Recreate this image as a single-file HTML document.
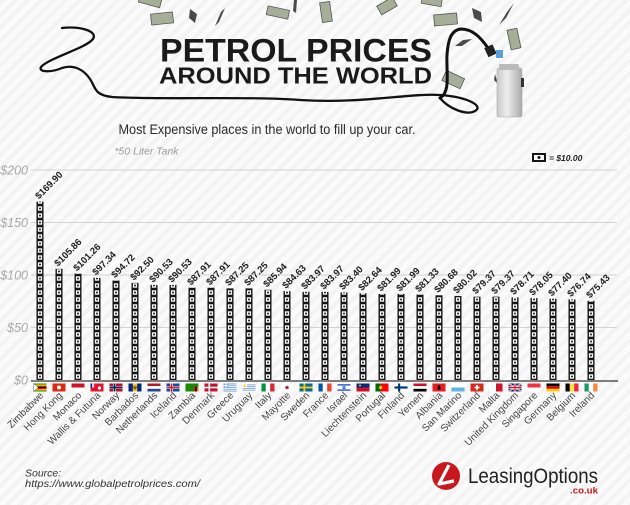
<!DOCTYPE html>
<html><head><meta charset="utf-8"><style>
html,body{margin:0;padding:0;}
body{width:630px;height:505px;overflow:hidden;background:#f7f7f7;background-image:repeating-linear-gradient(135deg,#f3f3f3 0px,#f3f3f3 4px,#fbfbfb 4px,#fbfbfb 9px);}
svg{position:absolute;left:0;top:0;}
text{font-family:"Liberation Sans",sans-serif;}
</style></head><body>
<svg width="630" height="505" viewBox="0 0 630 505" xmlns="http://www.w3.org/2000/svg">
<defs>
<pattern id="ico" patternUnits="userSpaceOnUse" x="36.5" y="380" width="19" height="7">
<rect x="0" y="0" width="7" height="7" fill="#151515"/>
<rect x="1.4" y="1.3" width="4.2" height="4.4" fill="#fff"/>
<circle cx="3.5" cy="3.5" r="1" fill="#151515"/>
</pattern>
<linearGradient id="can" x1="0" y1="0" x2="1" y2="0">
<stop offset="0" stop-color="#c9c9c9"/><stop offset="0.4" stop-color="#eeeeee"/><stop offset="1" stop-color="#a9a9a9"/>
</linearGradient>
</defs>

<!-- header decorations: bills -->
<g fill="#a7ae98" stroke="#555" stroke-width="0.8">
<rect x="151" y="13" width="22" height="11" transform="rotate(-6 162 18)"/>
<rect x="267" y="8" width="22" height="9" transform="rotate(12 278 12)"/>
<rect x="321" y="2" width="10" height="20" transform="rotate(-8 326 12)"/>
<rect x="378" y="1" width="18" height="10" transform="rotate(-30 387 6)"/>
<rect x="434" y="14" width="23" height="11" transform="rotate(-5 445 19)"/>
<rect x="509" y="29" width="10" height="20" transform="rotate(-12 514 39)"/>
<rect x="443" y="74" width="20" height="11" transform="rotate(25 453 80)"/>
<rect x="139" y="-3" width="22" height="8" transform="rotate(15 150 1)"/>
<rect x="422" y="-4" width="20" height="9" transform="rotate(10 432 0)"/>
</g>
<g fill="#4a4a4a">
<path d="M190 9 L197 14 L195 23 L189 18 Z"/>
<path d="M215 26 L221 12 L225 8 L219 22 Z"/>
<path d="M294 0 L297 0 L296 13 L293 11 Z"/>
<path d="M472 8 L481 12 L482 22 L474 18 Z"/>
<path d="M499 25 L507 12 L514 3 L506 18 Z"/>
<path d="M455 46 L463 40 L472 39 L462 46 Z"/>
<path d="M495 74 L498 84 L494 80 Z"/>
</g>

<!-- hose / squiggle line -->
<path d="M62 28 C80 26 98 31 93 39 C86 48 52 57 42 66 C36 72 50 73 62 68 C74 64 84 70 90 79 C96 88 94 95 112 97 C160 100 250 96 300 100 C360 104 410 93 440 95 C468 97 484 106 475 111 C466 116 448 108 440 98" fill="none" stroke="#111" stroke-width="2.3" stroke-linecap="round"/>
<path d="M440 98 C451 92 446 70 447 55 C448 40 451 30 461 29 C473 29 481 38 488 48" fill="none" stroke="#111" stroke-width="3" stroke-linecap="round"/>
<rect x="486" y="46" width="9" height="10" fill="#222" transform="rotate(-25 490 51)"/>
<rect x="496" y="50" width="7" height="8" fill="#5aa0d8"/>
<!-- jerry can -->
<rect x="497" y="68" width="25" height="49" rx="2" fill="url(#can)" stroke="#aaa" stroke-width="0.6"/>
<rect x="499" y="64" width="20" height="6" rx="1" fill="#bbb"/>
<rect x="521" y="78" width="3" height="9" fill="#333"/>

<!-- title -->
<text x="160" y="61.5" font-size="32" font-weight="bold" fill="#1a1a1a" textLength="272" lengthAdjust="spacingAndGlyphs">PETROL PRICES</text>
<text x="159" y="83.3" font-size="23" font-weight="bold" fill="#1a1a1a" textLength="273" lengthAdjust="spacingAndGlyphs">AROUND THE WORLD</text>
<text x="118.5" y="134" font-size="13.5" fill="#2a2a2a" textLength="297" lengthAdjust="spacingAndGlyphs">Most Expensive places in the world to fill up your car.</text>
<text x="114.5" y="154.5" font-size="10" font-style="italic" fill="#9a9a9a" textLength="64" lengthAdjust="spacingAndGlyphs">*50 Liter Tank</text>

<!-- legend -->
<rect x="532" y="153" width="14" height="9" fill="#151515"/>
<rect x="534" y="155" width="10" height="5" fill="#fff"/>
<circle cx="539" cy="157.5" r="1.5" fill="#151515"/>
<text x="549" y="161" font-size="8.5" font-weight="bold" font-style="italic" fill="#222">= $10.00</text>

<!-- gridlines -->
<g stroke="#d2d2d2" stroke-width="1">
<line x1="31" y1="170" x2="617" y2="170"/>
<line x1="31" y1="222.5" x2="617" y2="222.5"/>
<line x1="31" y1="275" x2="617" y2="275"/>
<line x1="31" y1="327.5" x2="617" y2="327.5"/>
</g>
<g font-size="12.5" font-style="italic" fill="#a8a8a8" text-anchor="end">
<text x="28" y="174.5">$200</text>
<text x="28" y="227">$150</text>
<text x="28" y="279.5">$100</text>
<text x="28" y="332">$50</text>
<text x="28" y="384.5">$0</text>
</g>

<!-- bars -->
<g fill="url(#ico)">
<rect x="36.5" y="201.6" width="7" height="178.4"/>
<rect x="55.5" y="268.85" width="7" height="111.15"/>
<rect x="74.5" y="273.68" width="7" height="106.32"/>
<rect x="93.5" y="277.79" width="7" height="102.21"/>
<rect x="112.5" y="280.54" width="7" height="99.46"/>
<rect x="131.5" y="282.87" width="7" height="97.13"/>
<rect x="150.5" y="284.94" width="7" height="95.06"/>
<rect x="169.5" y="284.94" width="7" height="95.06"/>
<rect x="188.5" y="287.69" width="7" height="92.31"/>
<rect x="207.5" y="287.69" width="7" height="92.31"/>
<rect x="226.5" y="288.39" width="7" height="91.61"/>
<rect x="245.5" y="288.39" width="7" height="91.61"/>
<rect x="264.5" y="289.76" width="7" height="90.24"/>
<rect x="283.5" y="291.14" width="7" height="88.86"/>
<rect x="302.5" y="291.83" width="7" height="88.17"/>
<rect x="321.5" y="291.83" width="7" height="88.17"/>
<rect x="340.5" y="292.43" width="7" height="87.57"/>
<rect x="359.5" y="293.23" width="7" height="86.77"/>
<rect x="378.5" y="293.91" width="7" height="86.09"/>
<rect x="397.5" y="293.91" width="7" height="86.09"/>
<rect x="416.5" y="294.6" width="7" height="85.4"/>
<rect x="435.5" y="295.29" width="7" height="84.71"/>
<rect x="454.5" y="295.98" width="7" height="84.02"/>
<rect x="473.5" y="296.66" width="7" height="83.34"/>
<rect x="492.5" y="296.66" width="7" height="83.34"/>
<rect x="511.5" y="297.35" width="7" height="82.65"/>
<rect x="530.5" y="298.05" width="7" height="81.95"/>
<rect x="549.5" y="298.73" width="7" height="81.27"/>
<rect x="568.5" y="299.42" width="7" height="80.58"/>
<rect x="587.5" y="300.8" width="7" height="79.2"/>
</g>

<!-- value labels -->
<g font-size="9.5" font-weight="bold" fill="#1e1e1e">
<text transform="translate(39,199.6) rotate(-45)">$169.90</text>
<text transform="translate(58,266.85) rotate(-45)">$105.86</text>
<text transform="translate(77,271.68) rotate(-45)">$101.26</text>
<text transform="translate(96,275.79) rotate(-45)">$97.34</text>
<text transform="translate(115,278.54) rotate(-45)">$94.72</text>
<text transform="translate(134,280.87) rotate(-45)">$92.50</text>
<text transform="translate(153,282.94) rotate(-45)">$90.53</text>
<text transform="translate(172,282.94) rotate(-45)">$90.53</text>
<text transform="translate(191,285.69) rotate(-45)">$87.91</text>
<text transform="translate(210,285.69) rotate(-45)">$87.91</text>
<text transform="translate(229,286.39) rotate(-45)">$87.25</text>
<text transform="translate(248,286.39) rotate(-45)">$87.25</text>
<text transform="translate(267,287.76) rotate(-45)">$85.94</text>
<text transform="translate(286,289.14) rotate(-45)">$84.63</text>
<text transform="translate(305,289.83) rotate(-45)">$83.97</text>
<text transform="translate(324,289.83) rotate(-45)">$83.97</text>
<text transform="translate(343,290.43) rotate(-45)">$83.40</text>
<text transform="translate(362,291.23) rotate(-45)">$82.64</text>
<text transform="translate(381,291.91) rotate(-45)">$81.99</text>
<text transform="translate(400,291.91) rotate(-45)">$81.99</text>
<text transform="translate(419,292.6) rotate(-45)">$81.33</text>
<text transform="translate(438,293.29) rotate(-45)">$80.68</text>
<text transform="translate(457,293.98) rotate(-45)">$80.02</text>
<text transform="translate(476,294.66) rotate(-45)">$79.37</text>
<text transform="translate(495,294.66) rotate(-45)">$79.37</text>
<text transform="translate(514,295.35) rotate(-45)">$78.71</text>
<text transform="translate(533,296.05) rotate(-45)">$78.05</text>
<text transform="translate(552,296.73) rotate(-45)">$77.40</text>
<text transform="translate(571,297.42) rotate(-45)">$76.74</text>
<text transform="translate(590,298.8) rotate(-45)">$75.43</text>
</g>

<!-- axis -->
<line x1="31" y1="381" x2="618" y2="381" stroke="#555" stroke-width="1.4"/>

<!-- flags -->
<g transform="translate(33.5,383.5)"><rect width="13" height="8" fill="#319208"/><rect y="1.1" width="13" height="5.8" fill="#ffd200"/><rect y="2.3" width="13" height="3.4" fill="#de2010"/><rect y="3.4" width="13" height="1.2" fill="#000"/><path d="M0 0 L5 4 L0 8Z" fill="#fff" stroke="#000" stroke-width="0.3"/></g>
<g transform="translate(52.5,383.5)"><rect width="13" height="8" fill="#de2910"/><circle cx="6.5" cy="4" r="2" fill="#fff"/></g>
<g transform="translate(71.5,383.5)"><rect width="13" height="4" fill="#ce1126"/><rect y="4" width="13" height="4" fill="#fff"/></g>
<g transform="translate(90.5,383.5)"><rect width="13" height="8" fill="#e8112d"/><rect width="5" height="4" fill="#fff"/><rect width="1.7" height="4" fill="#002395"/><rect x="3.3" width="1.7" height="4" fill="#ed2939"/><circle cx="9" cy="4.5" r="1.6" fill="#fff"/></g>
<g transform="translate(109.5,383.5)"><rect width="13" height="8" fill="#ba0c2f"/><rect x="3.5" width="3" height="8" fill="#fff"/><rect y="2.75" width="13" height="2.5" fill="#fff"/><rect x="4.1" width="1.8" height="8" fill="#00205b"/><rect y="3.2" width="13" height="1.6" fill="#00205b"/></g>
<g transform="translate(128.5,383.5)"><rect width="13" height="8" fill="#00267f"/><rect x="4.33" width="4.33" height="8" fill="#ffc726"/><path d="M6.5 2 L6.5 6.5 M5.3 3 L5.3 4.5 L7.7 4.5 L7.7 3" stroke="#000" stroke-width="0.6" fill="none"/></g>
<g transform="translate(147.5,383.5)"><rect width="13" height="2.67" fill="#ae1c28"/><rect y="2.67" width="13" height="2.67" fill="#fff"/><rect y="5.33" width="13" height="2.67" fill="#21468b"/></g>
<g transform="translate(166.5,383.5)"><rect width="13" height="8" fill="#02529c"/><rect x="3.5" width="3" height="8" fill="#fff"/><rect y="2.75" width="13" height="2.5" fill="#fff"/><rect x="4.1" width="1.8" height="8" fill="#dc1e35"/><rect y="3.2" width="13" height="1.6" fill="#dc1e35"/></g>
<g transform="translate(185.5,383.5)"><rect width="13" height="8" fill="#198a00"/><rect x="8.2" y="3" width="1.6" height="5" fill="#de2010"/><rect x="9.8" y="3" width="1.6" height="5" fill="#000"/><rect x="11.4" y="3" width="1.6" height="5" fill="#ef7d00"/></g>
<g transform="translate(204.5,383.5)"><rect width="13" height="8" fill="#c8102e"/><rect x="4" width="1.6" height="8" fill="#fff"/><rect y="3.2" width="13" height="1.6" fill="#fff"/></g>
<g transform="translate(223.5,383.5)"><rect width="13" height="8" fill="#6fa1d8"/><rect y="0.9" width="13" height="0.9" fill="#fff"/><rect y="2.7" width="13" height="0.9" fill="#fff"/><rect y="4.4" width="13" height="0.9" fill="#fff"/><rect y="6.2" width="13" height="0.9" fill="#fff"/><rect width="5" height="4.4" fill="#6fa1d8"/><rect x="2" width="1" height="4.4" fill="#fff"/><rect y="1.7" width="5" height="1" fill="#fff"/></g>
<g transform="translate(242.5,383.5)"><rect width="13" height="8" fill="#fff"/><rect y="0.9" width="13" height="0.9" fill="#7b9fd4"/><rect y="2.7" width="13" height="0.9" fill="#7b9fd4"/><rect y="4.4" width="13" height="0.9" fill="#7b9fd4"/><rect y="6.2" width="13" height="0.9" fill="#7b9fd4"/><rect width="4.5" height="4.4" fill="#fff"/><circle cx="2.2" cy="2.2" r="1.3" fill="#fcd116"/></g>
<g transform="translate(261.5,383.5)"><rect width="4.33" height="8" fill="#009246"/><rect x="4.33" width="4.33" height="8" fill="#fff"/><rect x="8.67" width="4.33" height="8" fill="#ce2b37"/></g>
<g transform="translate(280.5,383.5)"><rect width="13" height="8" fill="#fff"/><circle cx="6.5" cy="4" r="1.8" fill="#d33"/><circle cx="6.5" cy="4" r="0.9" fill="#346"/></g>
<g transform="translate(299.5,383.5)"><rect width="13" height="8" fill="#006aa7"/><rect x="4" width="1.8" height="8" fill="#fecc00"/><rect y="3.1" width="13" height="1.8" fill="#fecc00"/></g>
<g transform="translate(318.5,383.5)"><rect width="4.33" height="8" fill="#0055a4"/><rect x="4.33" width="4.33" height="8" fill="#fff"/><rect x="8.67" width="4.33" height="8" fill="#ef4135"/></g>
<g transform="translate(337.5,383.5)"><rect width="13" height="8" fill="#fff"/><rect y="0.8" width="13" height="1.2" fill="#0038b8"/><rect y="6" width="13" height="1.2" fill="#0038b8"/><path d="M6.5 2.6 L8 5 L5 5Z M6.5 5.6 L5 3.2 L8 3.2Z" fill="none" stroke="#0038b8" stroke-width="0.5"/></g>
<g transform="translate(356.5,383.5)"><rect width="13" height="4" fill="#002b7f"/><rect y="4" width="13" height="4" fill="#ce1126"/><rect x="2.5" y="1.3" width="2" height="1.4" fill="#ffd83d"/></g>
<g transform="translate(375.5,383.5)"><rect width="5.2" height="8" fill="#006600"/><rect x="5.2" width="7.8" height="8" fill="#ff0000"/><circle cx="5.2" cy="4" r="1.6" fill="#ffcc00"/></g>
<g transform="translate(394.5,383.5)"><rect width="13" height="8" fill="#fff"/><rect x="3.5" width="2.2" height="8" fill="#003580"/><rect y="2.9" width="13" height="2.2" fill="#003580"/></g>
<g transform="translate(413.5,383.5)"><rect width="13" height="2.67" fill="#ce1126"/><rect y="2.67" width="13" height="2.67" fill="#fff"/><rect y="5.33" width="13" height="2.67" fill="#000"/></g>
<g transform="translate(432.5,383.5)"><rect width="13" height="8" fill="#e41e20"/><path d="M5 2 L8 2 L7.5 4 L8.5 5 L6.5 6.5 L4.5 5 L5.5 4Z" fill="#000"/></g>
<g transform="translate(451.5,383.5)"><rect width="13" height="4" fill="#fff"/><rect y="4" width="13" height="4" fill="#5eb6e4"/></g>
<g transform="translate(470.5,383.5)"><rect width="13" height="8" fill="#d52b1e"/><rect x="5.7" y="1.5" width="1.6" height="5" fill="#fff"/><rect x="4" y="3.2" width="5" height="1.6" fill="#fff"/></g>
<g transform="translate(489.5,383.5)"><rect width="6.5" height="8" fill="#fff"/><rect x="6.5" width="6.5" height="8" fill="#cf142b"/></g>
<g transform="translate(508.5,383.5)"><rect width="13" height="8" fill="#012169"/><path d="M0 0 L13 8 M13 0 L0 8" stroke="#fff" stroke-width="1.6"/><path d="M0 0 L13 8 M13 0 L0 8" stroke="#c8102e" stroke-width="0.5"/><rect x="5.3" width="2.4" height="8" fill="#fff"/><rect y="2.8" width="13" height="2.4" fill="#fff"/><rect x="5.9" width="1.2" height="8" fill="#c8102e"/><rect y="3.4" width="13" height="1.2" fill="#c8102e"/></g>
<g transform="translate(527.5,383.5)"><rect width="13" height="4" fill="#ef3340"/><rect y="4" width="13" height="4" fill="#fff"/></g>
<g transform="translate(546.5,383.5)"><rect width="13" height="2.67" fill="#000"/><rect y="2.67" width="13" height="2.67" fill="#dd0000"/><rect y="5.33" width="13" height="2.67" fill="#ffce00"/></g>
<g transform="translate(565.5,383.5)"><rect width="4.33" height="8" fill="#000"/><rect x="4.33" width="4.33" height="8" fill="#fae042"/><rect x="8.67" width="4.33" height="8" fill="#ed2939"/></g>
<g transform="translate(584.5,383.5)"><rect width="4.33" height="8" fill="#169b62"/><rect x="4.33" width="4.33" height="8" fill="#fff"/><rect x="8.67" width="4.33" height="8" fill="#ff883e"/></g>

<!-- country labels -->
<g font-size="10" fill="#444" text-anchor="end">
<text transform="translate(44,396) rotate(-45)">Zimbabwe</text>
<text transform="translate(63,396) rotate(-45)">Hong Kong</text>
<text transform="translate(82,396) rotate(-45)">Monaco</text>
<text transform="translate(101,396) rotate(-45)">Wallis &amp; Futuna</text>
<text transform="translate(120,396) rotate(-45)">Norway</text>
<text transform="translate(139,396) rotate(-45)">Barbados</text>
<text transform="translate(158,396) rotate(-45)">Netherlands</text>
<text transform="translate(177,396) rotate(-45)">Iceland</text>
<text transform="translate(196,396) rotate(-45)">Zambia</text>
<text transform="translate(215,396) rotate(-45)">Denmark</text>
<text transform="translate(234,396) rotate(-45)">Greece</text>
<text transform="translate(253,396) rotate(-45)">Uruguay</text>
<text transform="translate(272,396) rotate(-45)">Italy</text>
<text transform="translate(291,396) rotate(-45)">Mayotte</text>
<text transform="translate(310,396) rotate(-45)">Sweden</text>
<text transform="translate(329,396) rotate(-45)">France</text>
<text transform="translate(348,396) rotate(-45)">Israel</text>
<text transform="translate(367,396) rotate(-45)">Liechtenstein</text>
<text transform="translate(386,396) rotate(-45)">Portugal</text>
<text transform="translate(405,396) rotate(-45)">Finland</text>
<text transform="translate(424,396) rotate(-45)">Yemen</text>
<text transform="translate(443,396) rotate(-45)">Albania</text>
<text transform="translate(462,396) rotate(-45)">San Marino</text>
<text transform="translate(481,396) rotate(-45)">Switzerland</text>
<text transform="translate(500,396) rotate(-45)">Malta</text>
<text transform="translate(519,396) rotate(-45)">United Kingdom</text>
<text transform="translate(538,396) rotate(-45)">Singapore</text>
<text transform="translate(557,396) rotate(-45)">Germany</text>
<text transform="translate(576,396) rotate(-45)">Belgium</text>
<text transform="translate(595,396) rotate(-45)">Ireland</text>
</g>

<!-- source -->
<text x="25" y="476.5" font-size="10.5" font-style="italic" fill="#333">Source:</text>
<text x="25" y="487" font-size="10.5" font-style="italic" fill="#333" textLength="175" lengthAdjust="spacingAndGlyphs">https://www.globalpetrolprices.com/</text>

<!-- logo -->
<circle cx="446" cy="476" r="14" fill="#c8171e"/>
<path d="M449 465 L439 484 L454 481" fill="none" stroke="#fff" stroke-width="3.2" stroke-linejoin="round"/>
<text x="468" y="483" font-size="21" fill="#222" textLength="130" lengthAdjust="spacingAndGlyphs">LeasingOptions</text>
<text x="570" y="493.5" font-size="9" font-weight="bold" fill="#c8171e" textLength="28" lengthAdjust="spacingAndGlyphs">.co.uk</text>
</svg>
</body></html>
